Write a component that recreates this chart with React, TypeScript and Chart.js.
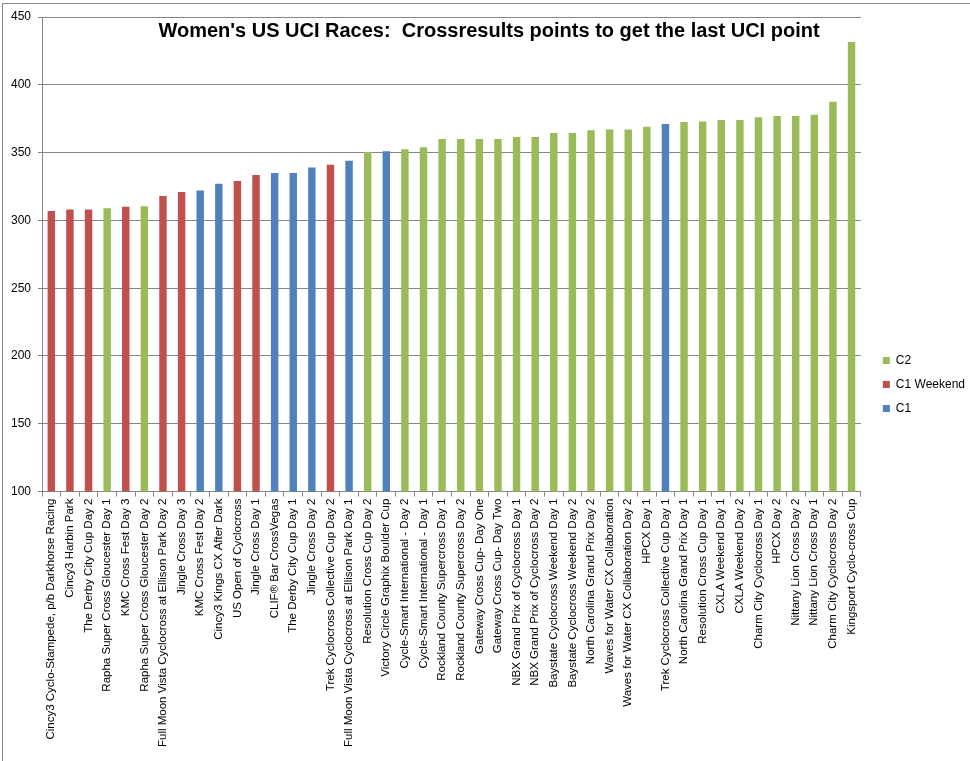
import React, { useEffect, useRef } from 'react';
import Chart from 'chart.js/auto';

const races: string[] = [
  'Cincy3 Cyclo-Stampede, p/b Darkhorse Racing',
  'Cincy3 Harbin Park',
  'The Derby City Cup Day 2',
  'Rapha Super Cross Gloucester Day 1',
  'KMC Cross Fest Day 3',
  'Rapha Super Cross Gloucester Day 2',
  'Full Moon Vista Cyclocross at Ellison Park Day 2',
  'Jingle Cross Day 3',
  'KMC Cross Fest Day 2',
  'Cincy3 Kings CX After Dark',
  'US Open of Cyclocross',
  'Jingle Cross Day 1',
  'CLIF® Bar CrossVegas',
  'The Derby City Cup Day 1',
  'Jingle Cross Day 2',
  'Trek Cyclocross Collective Cup Day 2',
  'Full Moon Vista Cyclocross at Ellison Park Day 1',
  'Resolution Cross Cup Day 2',
  'Victory Circle Graphix Boulder Cup',
  'Cycle-Smart International - Day 2',
  'Cycle-Smart International - Day 1',
  'Rockland County Supercross Day 1',
  'Rockland County Supercross Day 2',
  'Gateway Cross Cup- Day One',
  'Gateway Cross Cup- Day Two',
  'NBX Grand Prix of Cyclocross Day 1',
  'NBX Grand Prix of Cyclocross Day 2',
  'Baystate Cyclocross Weekend Day 1',
  'Baystate Cyclocross Weekend Day 2',
  'North Carolina Grand Prix Day 2',
  'Waves for Water CX Collaboration',
  'Waves for Water CX Collaboration Day 2',
  'HPCX Day 1',
  'Trek Cyclocross Collective Cup Day 1',
  'North Carolina Grand Prix Day 1',
  'Resolution Cross Cup Day 1',
  'CXLA Weekend Day 1',
  'CXLA Weekend Day 2',
  'Charm City Cyclocross Day 1',
  'HPCX Day 2',
  'Nittany Lion Cross Day 2',
  'Nittany Lion Cross Day 1',
  'Charm City Cyclocross Day 2',
  'Kingsport Cyclo-cross Cup',
];

const points: number[] = [
  307, 308, 308, 309, 310, 310.5, 318, 321, 322, 327, 329, 333.5, 335, 335, 339,
  341, 344, 350.5, 351, 352.5, 354, 360, 360, 360, 360, 361.5, 361.5, 364.5, 364.5,
  366.5, 367, 367, 369, 371, 372.5, 373, 374, 374, 376, 377, 377, 378, 387.5, 431.5,
];

const raceClass: string[] = [
  'C1 Weekend', 'C1 Weekend', 'C1 Weekend', 'C2', 'C1 Weekend', 'C2', 'C1 Weekend',
  'C1 Weekend', 'C1', 'C1', 'C1 Weekend', 'C1 Weekend', 'C1', 'C1', 'C1',
  'C1 Weekend', 'C1', 'C2', 'C1', 'C2', 'C2', 'C2', 'C2', 'C2', 'C2', 'C2', 'C2',
  'C2', 'C2', 'C2', 'C2', 'C2', 'C2', 'C1', 'C2', 'C2', 'C2', 'C2', 'C2', 'C2',
  'C2', 'C2', 'C2', 'C2',
];

const classNames: string[] = ['C2', 'C1 Weekend', 'C1'];
const classColors: string[] = ['#9BBB59', '#C0504D', '#4F81BD'];

const yTicks: number[] = [100, 150, 200, 250, 300, 350, 400, 450];

const TITLE = "Women's US UCI Races:  Crossresults points to get the last UCI point";

// title sits inside the plot area like the Excel one, so draw it by hand
const titlePlugin = {
  id: 'insideTitle',
  afterDraw(chart: Chart) {
    const ctx = chart.ctx;
    ctx.save();
    ctx.font = 'bold 20px "Liberation Sans"';
    ctx.fillStyle = '#000';
    ctx.textAlign = 'center';
    ctx.textBaseline = 'alphabetic';
    ctx.fillText(TITLE, 489, 37);
    ctx.restore();
  },
};

// Excel leaves a wider gap between plot and legend than Chart.js does
const legendNudge = {
  id: 'legendNudge',
  afterLayout(chart: Chart) {
    if (chart.legend) {
      chart.legend.left += 10;
      chart.legend.top += 3;
    }
  },
};

const App: React.FC = () => {
  const canvasRef = useRef<HTMLCanvasElement>(null);
  const chartRef = useRef<Chart | null>(null);

  useEffect(() => {
    document.body.style.margin = '0';
    if (!canvasRef.current) return;
    if (chartRef.current) chartRef.current.destroy();

    const datasets = classNames.map((name, k) => ({
      label: name,
      data: points.map((v, i) => (raceClass[i] === name ? v : null)),
      backgroundColor: classColors[k],
      borderWidth: 0,
      barPercentage: 0.4,
      categoryPercentage: 1,
    }));

    chartRef.current = new Chart(canvasRef.current, {
      type: 'bar',
      data: { labels: races, datasets },
      plugins: [titlePlugin, legendNudge],
      options: {
        responsive: true,
        maintainAspectRatio: false,
        animation: false,
        layout: { padding: { top: 17, left: 4, right: 5, bottom: 12 } },
        font: { family: '"Liberation Sans", Arial, sans-serif' },
        plugins: {
          title: { display: false },
          tooltip: { enabled: false },
          legend: {
            position: 'right',
            labels: {
              boxWidth: 7,
              boxHeight: 7,
              padding: 12,
              color: '#000',
              font: { size: 12, family: '"Liberation Sans"' },
            },
          },
        },
        scales: {
          x: {
            stacked: true,
            grid: {
              drawOnChartArea: false,
              color: '#868686',
              tickLength: 5,
              offset: true,
            },
            border: { color: '#868686' },
            ticks: {
              autoSkip: false,
              maxRotation: 90,
              minRotation: 90,
              padding: 2,
              color: '#000',
              font: { size: 11.5, family: '"Liberation Sans"' },
            },
          },
          y: {
            stacked: true,
            min: yTicks[0],
            max: yTicks[yTicks.length - 1],
            afterBuildTicks: (axis) => {
              axis.ticks = yTicks.map((v) => ({ value: v }));
            },
            grid: { color: '#868686', tickLength: 4 },
            border: { color: '#868686' },
            ticks: {
              padding: 7,
              color: '#000',
              font: { size: 12, family: '"Liberation Sans"' },
            },
          },
        },
      },
    });

    return () => {
      if (chartRef.current) {
        chartRef.current.destroy();
        chartRef.current = null;
      }
    };
  }, []);

  return (
    <div style={{ position: 'relative', width: 970, height: 761, background: '#fff' }}>
      <div
        style={{
          position: 'absolute',
          left: 2,
          top: 3,
          right: 0,
          bottom: 0,
          borderLeft: '1px solid #878787',
          borderTop: '1px solid #878787',
        }}
      />
      <canvas ref={canvasRef}></canvas>
    </div>
  );
};

export default App;
